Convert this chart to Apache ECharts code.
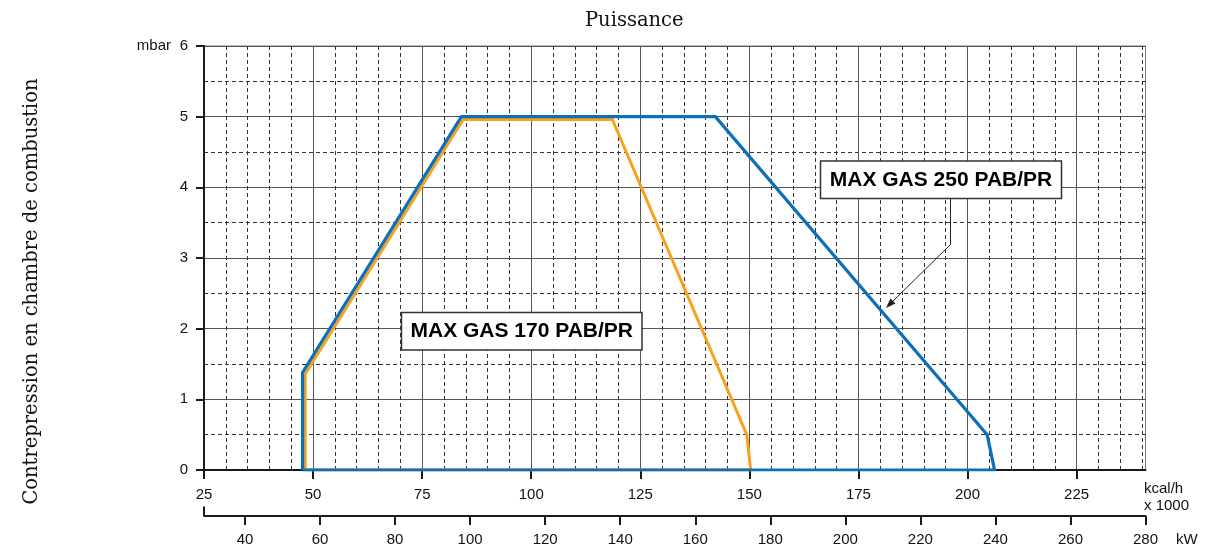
<!DOCTYPE html>
<html><head><meta charset="utf-8">
<script src="https://cdn.jsdelivr.net/npm/echarts@6/dist/echarts.min.js"></script>
<style>html,body{margin:0;padding:0;background:#fff}#c{width:1207px;height:552px}</style>
</head><body><div id="c"></div>
<script>
// ---- data ----
const kcalTicks = [25, 50, 75, 100, 125, 150, 175, 200, 225];
const kwTicks = [40, 60, 80, 100, 120, 140, 160, 180, 200, 220, 240, 260, 280];
const pressureTicks = [0, 1, 2, 3, 4, 5, 6];
const seriesNames = ['MAX GAS 170 PAB/PR', 'MAX GAS 250 PAB/PR'];
// [kcal/h x1000, mbar]
const gas170 = [[48.2, 0], [48.2, 1.36], [84.4, 4.96], [118.6, 4.96], [149.4, 0.5], [150.3, 0], [48.2, 0]];
const gas250 = [[47.6, 0], [47.6, 1.38], [84.0, 5.0], [142.2, 5.0], [204.5, 0.5], [206.2, 0], [47.6, 0]];
const KCAL_PER_KW = 0.86;
const kcalMin = 25, kwMax = 280;

const SANS = '"Liberation Sans", Arial, sans-serif';
const SERIF = '"DejaVu Serif", serif';
const AX = '#1a1a1a';

const chart = echarts.init(document.getElementById('c'), null, {renderer: 'canvas'});
const dashed = {show: true, lineStyle: {color: '#333', width: 1, type: [4, 3]}};

chart.setOption({
  animation: false,
  backgroundColor: '#fff',
  grid: {left: 204, top: 46, right: 61.5, bottom: 82, show: true, borderColor: '#777', borderWidth: 1, backgroundColor: 'transparent'},
  xAxis: [{
    type: 'value', min: kcalMin, max: kwMax * KCAL_PER_KW, interval: 25,
    axisLine: {show: true, onZero: false, lineStyle: {color: AX, width: 2}},
    axisTick: {show: true, length: 9, lineStyle: {color: AX, width: 2}, customValues: kcalTicks},
    axisLabel: {color: '#111', fontFamily: SANS, fontSize: 15, margin: 17, customValues: kcalTicks},
    splitLine: {show: true, lineStyle: {color: '#555', width: 1}},
    minorTick: {show: false, splitNumber: 5},
    minorSplitLine: dashed
  }, {
    type: 'value', position: 'bottom', offset: 46,
    min: kcalMin / KCAL_PER_KW, max: kwMax,
    axisLine: {show: true, onZero: false, lineStyle: {color: AX, width: 2}},
    axisTick: {show: true, length: 9, lineStyle: {color: AX, width: 2}, customValues: kwTicks},
    axisLabel: {color: '#111', fontFamily: SANS, fontSize: 15, margin: 16, customValues: kwTicks},
    splitLine: {show: false}
  }],
  yAxis: {
    type: 'value', min: 0, max: 6, interval: 1,
    axisLine: {show: true, onZero: false, lineStyle: {color: AX, width: 2}},
    axisTick: {show: true, length: 8, lineStyle: {color: AX, width: 2}},
    axisLabel: {color: '#111', fontFamily: SANS, fontSize: 15, margin: 16, customValues: pressureTicks},
    splitLine: {show: true, lineStyle: {color: '#555', width: 1}},
    minorTick: {show: false, splitNumber: 2},
    minorSplitLine: dashed
  },
  series: [{
    name: seriesNames[0], type: 'line', data: gas170, showSymbol: false, symbol: 'none',
    lineStyle: {color: '#f7a21c', width: 3, join: 'miter'}, z: 3
  }, {
    name: seriesNames[1], type: 'line', data: gas250, showSymbol: false, symbol: 'none',
    lineStyle: {color: '#0b70b9', width: 3.2, join: 'miter'}, z: 4
  }],
  graphic: [
    {type: 'text', left: 585, top: 11, style: {text: 'Puissance', font: '19.5px ' + SERIF, fill: '#111'}},
    {type: 'text', x: 32, y: 291.5, rotation: Math.PI / 2, style: {text: 'Contrepression en chambre de combustion', font: '19.5px ' + SERIF, fill: '#111', align: 'center', verticalAlign: 'middle'}},
    {type: 'text', x: 171, y: 46, style: {text: 'mbar', font: '15px ' + SANS, fill: '#111', align: 'right', verticalAlign: 'middle'}},
    {type: 'text', x: 1144, y: 480, style: {text: 'kcal/h\nx 1000', font: '15px ' + SANS, fill: '#111', lineHeight: 17}},
    {type: 'text', x: 1176, y: 540, style: {text: 'kW', font: '15px ' + SANS, fill: '#111', verticalAlign: 'middle'}},
    {type: 'line', shape: {x1: 204, y1: 506.5, x2: 204, y2: 516}, style: {stroke: AX, lineWidth: 2}},
    // annotation boxes
    {type: 'rect', shape: {x: 401.5, y: 312.5, width: 240.5, height: 37.5}, style: {fill: '#fff', stroke: '#333', lineWidth: 1.5}, z: 10},
    {type: 'text', x: 521.75, y: 331.5, style: {text: seriesNames[0], font: 'bold 21px ' + SANS, fill: '#000', align: 'center', verticalAlign: 'middle'}, z: 11},
    {type: 'rect', shape: {x: 820.5, y: 161, width: 241, height: 37.5}, style: {fill: '#fff', stroke: '#333', lineWidth: 1.5}, z: 10},
    {type: 'text', x: 941, y: 180, style: {text: seriesNames[1], font: 'bold 21px ' + SANS, fill: '#000', align: 'center', verticalAlign: 'middle'}, z: 11},
    {type: 'polyline', shape: {points: [[950.5, 198.5], [950.5, 244.5], [889, 305]]}, style: {stroke: '#222', lineWidth: 1, fill: null}, z: 10},
    {type: 'polygon', shape: {points: [[886, 308], [890.5, 298.5], [895.5, 303.5]]}, style: {fill: '#222'}, z: 10}
  ]
});
</script></body></html>
